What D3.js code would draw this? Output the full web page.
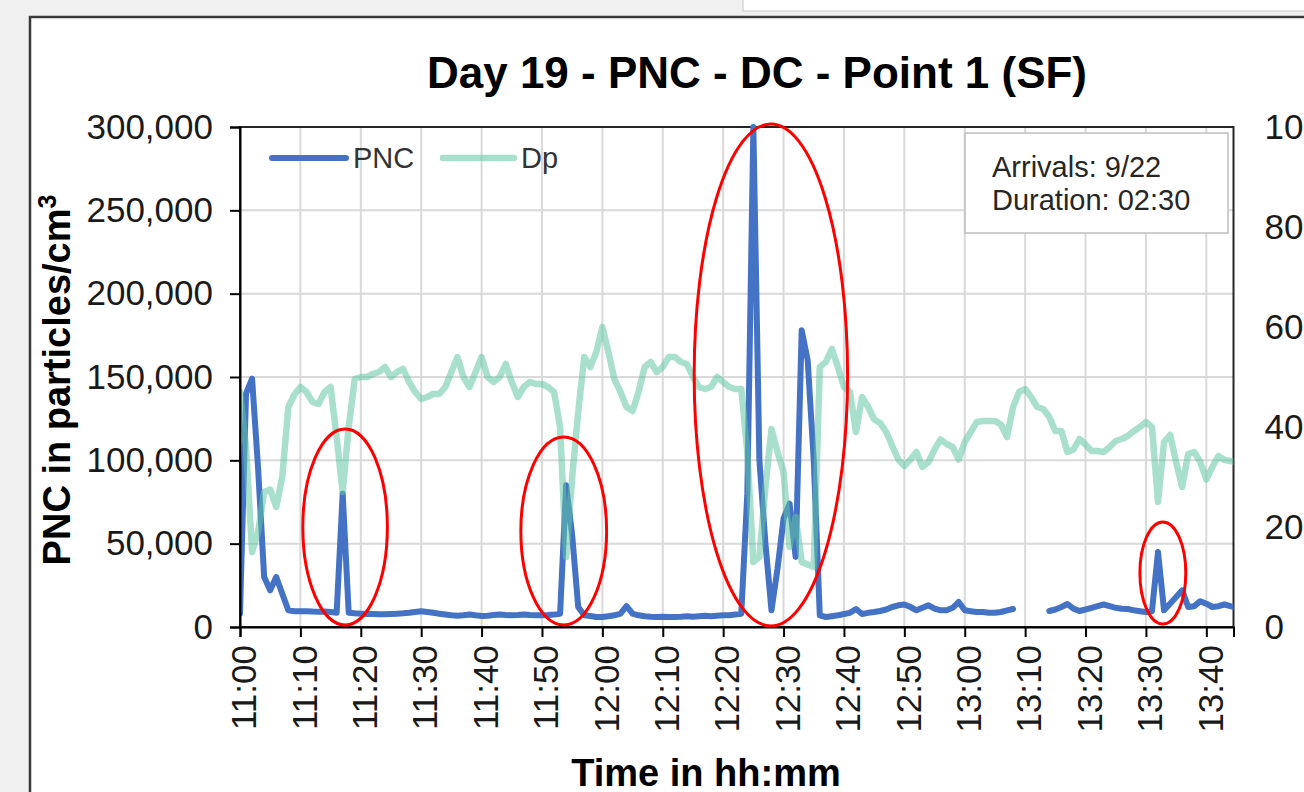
<!DOCTYPE html>
<html><head><meta charset="utf-8">
<script src="https://cdn.jsdelivr.net/npm/d3@7"></script>
<style>
html,body{margin:0;padding:0;background:#f0f0f0;overflow:hidden}
svg{display:block}
text{font-family:"Liberation Sans",Arial,sans-serif}
</style></head><body>
<svg id="chart" width="1304" height="792"></svg>
<script>
// ---- data (1-minute samples) ----
const times = [
"11:00","11:01","11:02","11:03","11:04","11:05","11:06","11:07","11:08","11:09",
"11:10","11:11","11:12","11:13","11:14","11:15","11:16","11:17","11:18","11:19",
"11:20","11:21","11:22","11:23","11:24","11:25","11:26","11:27","11:28","11:29",
"11:30","11:31","11:32","11:33","11:34","11:35","11:36","11:37","11:38","11:39",
"11:40","11:41","11:42","11:43","11:44","11:45","11:46","11:47","11:48","11:49",
"11:50","11:51","11:52","11:53","11:54","11:55","11:56","11:57","11:58","11:59",
"12:00","12:01","12:02","12:03","12:04","12:05","12:06","12:07","12:08","12:09",
"12:10","12:11","12:12","12:13","12:14","12:15","12:16","12:17","12:18","12:19",
"12:20","12:21","12:22","12:23","12:24","12:25","12:26","12:27","12:28","12:29",
"12:30","12:31","12:32","12:33","12:34","12:35","12:36","12:37","12:38","12:39",
"12:40","12:41","12:42","12:43","12:44","12:45","12:46","12:47","12:48","12:49",
"12:50","12:51","12:52","12:53","12:54","12:55","12:56","12:57","12:58","12:59",
"13:00","13:01","13:02","13:03","13:04","13:05","13:06","13:07","13:08","13:09",
"13:10","13:11","13:12","13:13","13:14","13:15","13:16","13:17","13:18","13:19",
"13:20","13:21","13:22","13:23","13:24","13:25","13:26","13:27","13:28","13:29",
"13:30","13:31","13:32","13:33","13:34","13:35","13:36","13:37","13:38","13:39",
"13:40","13:41","13:42","13:43","13:44","13:45"];

const pncValues = [
8000,140000,149000,95000,30000,22000,30000,20000,10000,9500,
9500,9500,9300,9200,9300,9000,8500,80000,8500,8200,
8000,7800,7800,7600,7600,7800,8000,8200,8500,9000,
9500,9000,8500,8000,7500,7000,6800,7000,7500,7000,
6600,6800,7200,7500,7200,7000,7200,7500,7200,7000,
7000,7200,7500,8000,85000,55000,12000,7000,6600,6000,
6000,6500,7000,8000,12500,8000,7000,6500,6200,6000,
6200,6000,6000,6200,6500,6200,6500,6800,6500,6800,
7000,7000,7500,8000,80000,300000,100000,50000,10000,35000,
65000,74000,42000,178000,160000,100000,7000,6000,6500,7000,
7800,8500,10800,7800,8500,9000,9600,10500,12000,13000,
13500,12000,10000,11500,13000,11000,10000,10000,11500,15000,
10000,9500,9000,9000,8500,8500,9000,10000,10800,null,
null,null,null,null,9600,10500,12000,13800,11000,9600,
10500,11500,12500,13500,12500,11500,11000,10800,10000,9500,
9000,9500,45000,10000,14000,18000,22000,12000,12500,15500,
14000,12000,12500,13500,12500,12000];

const dpValues = [
47,36,15,19,27,27.5,24,30,44,46.5,
48,47,45,44.6,47,48,38,27,40,49.6,
50,50,50.6,51,52,50,51,51.6,49,47,
45.6,46,46.6,46.6,48,51,54,50,48,51,
54,50,49,50,52.6,49,46,48,49,48.6,
48.6,48,47,40,14,30,43,54,52,55,
60,55,49.5,47,44,43.2,47,52,53,51,
52,54,54,53,52.6,50,48,47.6,48,50,
49,48,47.6,47.6,35,13,14,28,39.6,35,
31,16,22,13,12.5,12,52,53,55.6,52,
48,47,39,46,44,41.5,40.8,39,36.2,33.5,
32.2,33.5,35,32,33,35.5,37.5,36.6,36,33.5,
37,39,41,41.2,41.2,41.2,40.5,38,44,47,
47.6,46,44,43.6,42,39.2,39.2,35,35.5,37.6,
36.5,35.2,35.2,35,36,37.2,37.6,38.2,39.2,40,
41,40,25,37,38.4,33,28,34.6,35,33,
29.5,32,34.2,33.4,33.2,33];

const pncTicks = [0, 50000, 100000, 150000, 200000, 250000, 300000];
const dpTicks = [0, 20, 40, 60, 80, 100];
const xTickLabels = ["11:00","11:10","11:20","11:30","11:40","11:50","12:00","12:10",
  "12:20","12:30","12:40","12:50","13:00","13:10","13:20","13:30","13:40"];
const xDomain = ["11:00:00", "13:44:30"];
const seriesNames = ["PNC", "Dp"];
const infoLines = ["Arrivals: 9/22", "Duration: 02:30"];
// highlighted events (centre time, centre PNC value, half-width in minutes, half-height in PNC)
const highlights = [
  {t: "11:17:24", v: 60000,  rx: 7.0,  ry: 58800},
  {t: "11:53:36", v: 57600,  rx: 7.1,  ry: 56400},
  {t: "12:27:54", v: 151200, rx: 12.7, ry: 150600},
  {t: "13:32:48", v: 32400,  rx: 3.8,  ry: 30600}
];

// ---- drawing ----
const pT = d3.timeParse("%H:%M");
const pS = d3.timeParse("%H:%M:%S");
const svg = d3.select("#chart");
const L = 240, R = 1233.5, T = 127, B = 627;
const FONT = '"Liberation Sans", Arial, sans-serif';

// window frame
svg.append("rect").attr("x", 0).attr("y", 0).attr("width", 1304).attr("height", 792).attr("fill", "#f0f0f0");
svg.append("rect").attr("x", 743).attr("y", -2).attr("width", 600).attr("height", 13)
  .attr("fill", "#fff").attr("stroke", "#c8c8c8").attr("stroke-width", 1);
svg.append("rect").attr("x", 30).attr("y", 17).attr("width", 1320).attr("height", 820)
  .attr("fill", "#fff").attr("stroke", "#3a3a3a").attr("stroke-width", 2.5);

const x = d3.scaleTime().domain(xDomain.map(pS)).range([L, R]);
const yL = d3.scaleLinear().domain([0, 300000]).range([B, T]);
const yR = d3.scaleLinear().domain([0, 100]).range([B, T]);

// grid
const g = svg.append("g");
g.selectAll(".vg").data(xTickLabels.slice(1)).enter().append("line")
  .attr("x1", d => x(pT(d))).attr("x2", d => x(pT(d))).attr("y1", T).attr("y2", B)
  .attr("stroke", "#d9d9d9").attr("stroke-width", 2);
g.selectAll(".hg").data(pncTicks.slice(1, -1)).enter().append("line")
  .attr("x1", L).attr("x2", R).attr("y1", d => yL(d)).attr("y2", d => yL(d))
  .attr("stroke", "#d9d9d9").attr("stroke-width", 2);

// plot border
svg.append("rect").attr("x", L).attr("y", T).attr("width", R - L).attr("height", B - T)
  .attr("fill", "none").attr("stroke", "#262626").attr("stroke-width", 2);

// clip
svg.append("defs").append("clipPath").attr("id", "clip")
  .append("rect").attr("x", L).attr("y", T - 3).attr("width", R - L).attr("height", B - T + 6);

const rows = times.map((t, i) => ({t: pT(t), pnc: pncValues[i], dp: dpValues[i]}));

const pncLine = d3.line().defined(d => d.pnc != null).x(d => x(d.t)).y(d => yL(d.pnc));
const dpLine = d3.line().x(d => x(d.t)).y(d => yR(d.dp));

const lines = svg.append("g").attr("clip-path", "url(#clip)");
lines.append("path").datum(rows).attr("d", pncLine).attr("fill", "none")
  .attr("stroke", "#4472C4").attr("stroke-width", 6)
  .attr("stroke-linejoin", "round").attr("stroke-linecap", "round");
lines.append("path").datum(rows).attr("d", dpLine).attr("fill", "none")
  .attr("stroke", "#61C6A4").attr("stroke-opacity", 0.55).attr("stroke-width", 6.5)
  .attr("stroke-linejoin", "round").attr("stroke-linecap", "round");

// axes
const axL = svg.append("g").attr("transform", `translate(${L},0)`)
  .call(d3.axisLeft(yL).tickValues(pncTicks).tickFormat(d3.format(",")).tickSize(10).tickPadding(17));
axL.select(".domain").attr("stroke", "#000").attr("stroke-width", 2);
axL.selectAll(".tick line").attr("stroke", "#000").attr("stroke-width", 2);
axL.selectAll(".tick text").attr("font-family", FONT).attr("font-size", 35).attr("fill", "#1a1a1a");

const axR = svg.append("g").attr("transform", `translate(${R},0)`)
  .call(d3.axisRight(yR).tickValues(dpTicks).tickSize(0).tickPadding(31));
axR.select(".domain").remove();
axR.selectAll(".tick text").attr("font-family", FONT).attr("font-size", 35).attr("fill", "#1a1a1a");

const axB = svg.append("g").attr("transform", `translate(0,${B})`)
  .call(d3.axisBottom(x).tickValues(xTickLabels.map(pT)).tickFormat(d3.timeFormat("%H:%M")).tickSize(10));
axB.select(".domain").attr("stroke", "#000").attr("stroke-width", 2);
axB.selectAll(".tick line").attr("stroke", "#000").attr("stroke-width", 2);
axB.selectAll(".tick text").attr("font-family", FONT).attr("font-size", 35).attr("fill", "#1a1a1a")
  .attr("transform", "rotate(-90)").attr("text-anchor", "end")
  .attr("x", -18).attr("y", 0).attr("dy", "0.45em");

// titles
svg.append("text").attr("x", 757).attr("y", 88).attr("text-anchor", "middle")
  .attr("font-family", FONT).attr("font-weight", "bold").attr("font-size", 44).attr("fill", "#000")
  .text("Day 19 - PNC - DC - Point 1 (SF)");
svg.append("text").attr("x", 706).attr("y", 786).attr("text-anchor", "middle")
  .attr("font-family", FONT).attr("font-weight", "bold").attr("font-size", 38).attr("fill", "#000")
  .text("Time in hh:mm");
const yt = svg.append("text").attr("transform", "translate(70,380) rotate(-90)").attr("text-anchor", "middle")
  .attr("font-family", FONT).attr("font-weight", "bold").attr("font-size", 38).attr("fill", "#000");
yt.append("tspan").text("PNC in particles/cm");
yt.append("tspan").attr("font-size", 25).attr("dy", "-14").text("3");

// legend
const leg = svg.append("g");
leg.append("line").attr("x1", 272).attr("x2", 346).attr("y1", 158).attr("y2", 158)
  .attr("stroke", "#4472C4").attr("stroke-width", 6).attr("stroke-linecap", "round");
leg.append("text").attr("x", 353).attr("y", 168).attr("font-family", FONT).attr("font-size", 29)
  .attr("fill", "#333").text(seriesNames[0]);
leg.append("line").attr("x1", 443).attr("x2", 514).attr("y1", 158).attr("y2", 158)
  .attr("stroke", "#61C6A4").attr("stroke-opacity", 0.55).attr("stroke-width", 6.5).attr("stroke-linecap", "round");
leg.append("text").attr("x", 521).attr("y", 168).attr("font-family", FONT).attr("font-size", 29)
  .attr("fill", "#333").text(seriesNames[1]);

// info box
svg.append("rect").attr("x", 965).attr("y", 133).attr("width", 263).attr("height", 100)
  .attr("fill", "#fff").attr("stroke", "#bfbfbf").attr("stroke-width", 1.5);
svg.selectAll(".info").data(infoLines).enter().append("text")
  .attr("x", 992).attr("y", (d, i) => 177 + i * 33)
  .attr("font-family", FONT).attr("font-size", 29).attr("fill", "#262626").text(d => d);

// highlight ellipses
svg.selectAll(".hl").data(highlights).enter().append("ellipse")
  .attr("cx", d => x(pS(d.t)))
  .attr("cy", d => yL(d.v))
  .attr("rx", d => x(new Date(pS(d.t).getTime() + d.rx * 60000)) - x(pS(d.t)))
  .attr("ry", d => yL(0) - yL(d.ry))
  .attr("fill", "none").attr("stroke", "#ff0000").attr("stroke-width", 3);
</script>
</body></html>
